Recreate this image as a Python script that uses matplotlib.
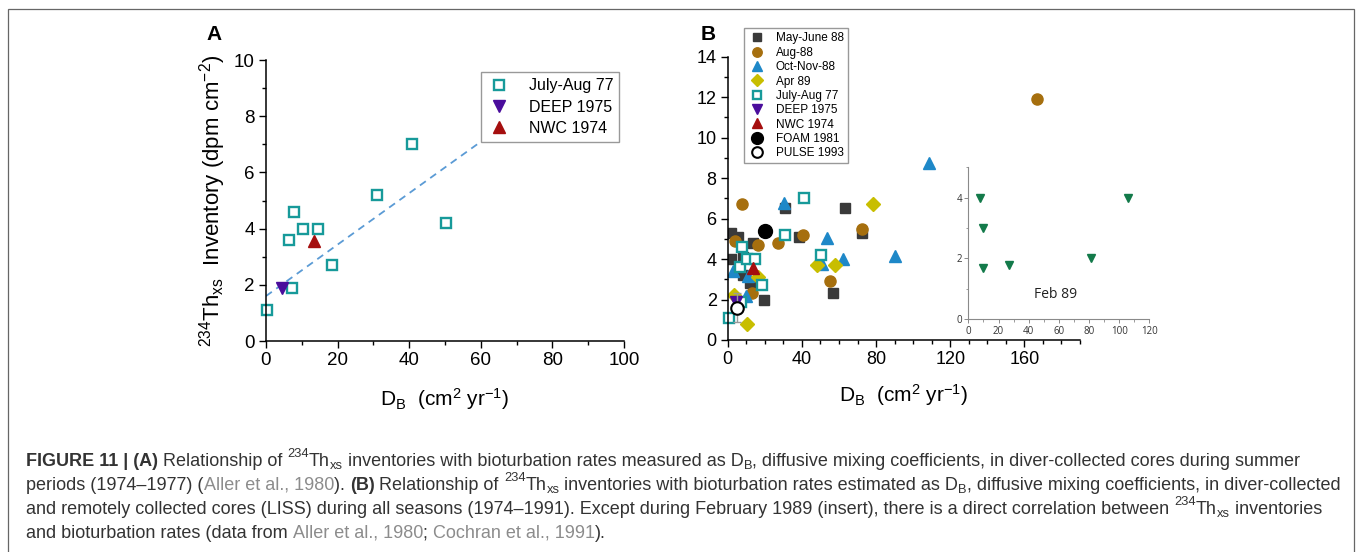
import matplotlib
matplotlib.use('Agg')
import matplotlib.pyplot as plt
from matplotlib.ticker import MultipleLocator
from matplotlib.transforms import IdentityTransform
from matplotlib.patches import Rectangle

plt.rcParams['font.family'] = ['Liberation Sans', 'DejaVu Sans']
plt.rcParams['mathtext.fontset'] = 'custom'
plt.rcParams['mathtext.rm'] = 'Liberation Sans'
plt.rcParams['mathtext.it'] = 'Liberation Sans:italic'
plt.rcParams['mathtext.bf'] = 'Liberation Sans:bold'

# panel A / shared data (D_B in cm2/yr, inventory in dpm/cm2)
jul77_x = [0.4, 6.4, 7.7, 7.4, 10.3, 14.6, 18.4, 31.1, 40.9, 50.3]
jul77_y = [1.1, 3.6, 4.6, 1.9, 4.0, 4.0, 2.7, 5.2, 7.0, 4.2]
deep_x = [4.6]
deep_y = [1.9]
nwc_x = [13.4]
nwc_y = [3.55]
fit_x = [0, 59]
fit_y = [1.6, 7.0]

# panel B
may88_x = [1.8, 5.7, 1.8, 13.8, 8.1, 8.1, 12.0, 19.7, 31.0, 38.4, 63.5, 56.5, 72.3]
may88_y = [5.3, 5.1, 4.0, 4.8, 4.1, 3.2, 2.8, 2.0, 6.5, 5.1, 6.5, 2.3, 5.3]
aug88_x = [7.7, 4.1, 16.5, 26.9, 40.4, 72.3, 55.1, 13.3, 167.0]
aug88_y = [6.7, 4.9, 4.7, 4.8, 5.2, 5.5, 2.9, 2.3, 11.9]
oct88_x = [30.3, 53.3, 62.2, 90.2, 50.6, 3.0, 11.1, 9.8, 108.5]
oct88_y = [6.75, 5.05, 4.0, 4.15, 3.75, 3.4, 3.15, 2.15, 8.75]
apr89_x = [78.4, 47.9, 57.6, 16.5, 3.6, 10.2]
apr89_y = [6.7, 3.7, 3.7, 3.1, 2.2, 0.8]
foam_x = [20.1]
foam_y = [5.4]
pulse_x = [4.8]
pulse_y = [1.6]
pulse_err = [0.7]

# inset, Feb 89
feb89_x = [8, 10, 10, 27, 81, 106]
feb89_y = [4.0, 3.0, 1.7, 1.8, 2.0, 4.0]

c_may = '#3a3a3a'
c_aug = '#a66f0e'
c_oct = '#1e88c8'
c_apr = '#c8be00'
c_jul = '#179a9a'
c_deep = '#4a0d9c'
c_nwc = '#a50e0e'
c_feb = '#137a4a'

fig = plt.figure(figsize=(13.57, 5.52), dpi=100)

xlab = r'D$_\mathregular{B}$  (cm$^\mathregular{2}$ yr$^\mathregular{-1}$)'


def style_axes(ax, size):
    for s in ['top', 'right']:
        ax.spines[s].set_visible(False)
    for s in ['left', 'bottom']:
        ax.spines[s].set_linewidth(1.1)
    ax.tick_params(which='major', length=5, width=1, labelsize=size, pad=3)
    ax.tick_params(which='minor', length=3, width=1)


# ---- panel A
axA = fig.add_axes([0.1960, 0.3822, 0.2638, 0.5091])
axA.plot(fit_x, fit_y, ls=(0, (4, 3)), color='#5b9bd5', lw=1.3)
axA.plot(jul77_x, jul77_y, 's', ms=6.5, mfc='white', mec=c_jul, mew=1.7,
         ls='none', label='July-Aug 77', clip_on=False)
axA.plot(deep_x, deep_y, 'v', ms=9, color=c_deep, ls='none', label='DEEP 1975')
axA.plot(nwc_x, nwc_y, '^', ms=9, color=c_nwc, ls='none', label='NWC 1974')
axA.set_xlim(0, 100)
axA.set_ylim(0, 10)
axA.xaxis.set_major_locator(MultipleLocator(20))
axA.xaxis.set_minor_locator(MultipleLocator(10))
axA.yaxis.set_major_locator(MultipleLocator(2))
axA.yaxis.set_minor_locator(MultipleLocator(1))
style_axes(axA, 13.5)
axA.set_xlabel(xlab, fontsize=15, labelpad=12)
axA.set_ylabel(r'$^\mathregular{234}$Th$_\mathregular{xs}$  Inventory (dpm cm$^\mathregular{-2}$)',
               fontsize=16, labelpad=4)
fig.legend(handles=axA.get_lines()[1:], loc='upper left',
           bbox_to_anchor=(0.3542, 0.870), borderaxespad=0, fontsize=11.5,
           fancybox=False, edgecolor='#999999', framealpha=1,
           handletextpad=1.1, labelspacing=0.4, borderpad=0.4,
           handlelength=1.5)
fig.text(214 / 1357, 1 - 35 / 552, 'A', fontsize=15, fontweight='bold',
         ha='center', va='center')

# ---- panel B
axB = fig.add_axes([0.5363, 0.3841, 0.2596, 0.5132])
hB = []
hB += axB.plot(may88_x, may88_y, 's', ms=7.5, color=c_may, ls='none', label='May-June 88')
hB += axB.plot(aug88_x, aug88_y, 'o', ms=8, color=c_aug, ls='none', label='Aug-88')
hB += axB.plot(oct88_x, oct88_y, '^', ms=9, color=c_oct, ls='none', label='Oct-Nov-88')
hB += axB.plot(apr89_x, apr89_y, 'D', ms=7, color=c_apr, ls='none', label='Apr 89')
hB += axB.plot(jul77_x, jul77_y, 's', ms=7, mfc='white', mec=c_jul, mew=1.7,
               ls='none', label='July-Aug 77', clip_on=False)
hB += axB.plot(deep_x, deep_y, 'v', ms=9, color=c_deep, ls='none', label='DEEP 1975')
hB += axB.plot(nwc_x, nwc_y, '^', ms=9, color=c_nwc, ls='none', label='NWC 1974')
hB += axB.plot(foam_x, foam_y, 'o', ms=10, color='black', ls='none', label='FOAM 1981')
axB.errorbar(pulse_x, pulse_y, yerr=pulse_err, fmt='none', ecolor='#9a9a9a',
             elinewidth=1, capsize=3)
hB += axB.plot(pulse_x, pulse_y, 'o', ms=9, mfc='white', mec='black', mew=1.5,
               ls='none', label='PULSE 1993')
axB.set_xlim(0, 190)
axB.set_ylim(0, 14)
axB.xaxis.set_major_locator(MultipleLocator(40))
axB.xaxis.set_minor_locator(MultipleLocator(10))
axB.yaxis.set_major_locator(MultipleLocator(2))
axB.yaxis.set_minor_locator(MultipleLocator(1))
axB.set_xticks([0, 40, 80, 120, 160])
style_axes(axB, 13)
axB.set_xlabel(xlab, fontsize=15, labelpad=10)
fig.legend(handles=hB, loc='upper left', bbox_to_anchor=(0.5485, 0.9487),
           borderaxespad=0, fontsize=8.5, fancybox=False, edgecolor='#999999',
           framealpha=1, handletextpad=0.9, labelspacing=0.2, borderpad=0.35,
           handlelength=1.4, markerscale=0.85)
fig.text(708 / 1357, 1 - 35 / 552, 'B', fontsize=15, fontweight='bold',
         ha='center', va='center')

# ---- inset
axI = fig.add_axes([0.7136, 0.4216, 0.1334, 0.2754])
axI.plot(feb89_x, feb89_y, 'v', ms=6, color=c_feb, ls='none')
axI.set_xlim(0, 120)
axI.set_ylim(0, 5)
axI.xaxis.set_major_locator(MultipleLocator(20))
axI.xaxis.set_minor_locator(MultipleLocator(10))
axI.yaxis.set_major_locator(MultipleLocator(2))
axI.yaxis.set_minor_locator(MultipleLocator(1))
axI.patch.set_alpha(0)
for s in ['top', 'right']:
    axI.spines[s].set_visible(False)
for s in ['left', 'bottom']:
    axI.spines[s].set_color('#8a8a8a')
    axI.spines[s].set_linewidth(0.8)
axI.tick_params(which='major', length=3, width=0.7, color='#8a8a8a',
                labelsize=7, labelcolor='#333333', pad=1.5)
axI.tick_params(which='minor', length=1.8, width=0.6, color='#8a8a8a')
for lab in axI.get_xticklabels() + axI.get_yticklabels():
    lab.set_family(['Open Sans', 'DejaVu Sans'])
axI.text(58, 0.8, 'Feb 89', fontsize=10, family=['Open Sans', 'DejaVu Sans'],
         ha='center', va='center', color='#222222')

# ---- frame
fig.add_artist(Rectangle((8, -5), 1346, 548, transform=IdentityTransform(),
                         fill=False, edgecolor='#666666', lw=0.9))

# ---- caption
cap_size = 12.95
cap_col = '#333333'
link_col = '#8c8c8c'
renderer = fig.canvas.get_renderer()


def run_width(s, **kw):
    a = fig.text(0, 0, s + '|', **kw)
    b = fig.text(0, 0, '|', **kw)
    w = a.get_window_extent(renderer).width - b.get_window_extent(renderer).width
    a.remove()
    b.remove()
    return w


def put_runs(x, y, runs):
    for txt, kind in runs:
        kw = dict(fontsize=cap_size, color=cap_col, fontweight='normal')
        dy = 0
        if kind == 'b':
            kw['fontweight'] = 'bold'
        elif kind == 'g':
            kw['color'] = link_col
        elif kind == 'sup':
            kw['fontsize'] = cap_size * 0.72
            dy = cap_size * 0.48 * 100 / 72
        elif kind == 'sub':
            kw['fontsize'] = cap_size * 0.72
            dy = -cap_size * 0.18 * 100 / 72
        fig.text(x, y + dy, txt, transform=IdentityTransform(), va='baseline', **kw)
        x += run_width(txt, **kw)


cap_lines = [
    [('FIGURE 11 | (A)', 'b'), (' Relationship of ', 'n'), ('234', 'sup'), ('Th', 'n'),
     ('xs', 'sub'), (' inventories with bioturbation rates measured as D', 'n'), ('B', 'sub'),
     (', diffusive mixing coefficients, in diver-collected cores during summer', 'n')],
    [('periods (1974\u20131977) (', 'n'), ('Aller et al., 1980', 'g'), ('). ', 'n'), ('(B)', 'b'),
     (' Relationship of ', 'n'), ('234', 'sup'), ('Th', 'n'), ('xs', 'sub'),
     (' inventories with bioturbation rates estimated as D', 'n'), ('B', 'sub'),
     (', diffusive mixing coefficients, in diver-collected', 'n')],
    [('and remotely collected cores (LISS) during all seasons (1974\u20131991). Except during '
      'February 1989 (insert), there is a direct correlation between ', 'n'), ('234', 'sup'),
     ('Th', 'n'), ('xs', 'sub'), (' inventories', 'n')],
    [('and bioturbation rates (data from ', 'n'), ('Aller et al., 1980', 'g'), ('; ', 'n'),
     ('Cochran et al., 1991', 'g'), (').', 'n')],
]
cap_base = [86, 62, 38, 14.5]
for runs, yb in zip(cap_lines, cap_base):
    put_runs(26, yb, runs)

fig.savefig('out.png', dpi=100)
